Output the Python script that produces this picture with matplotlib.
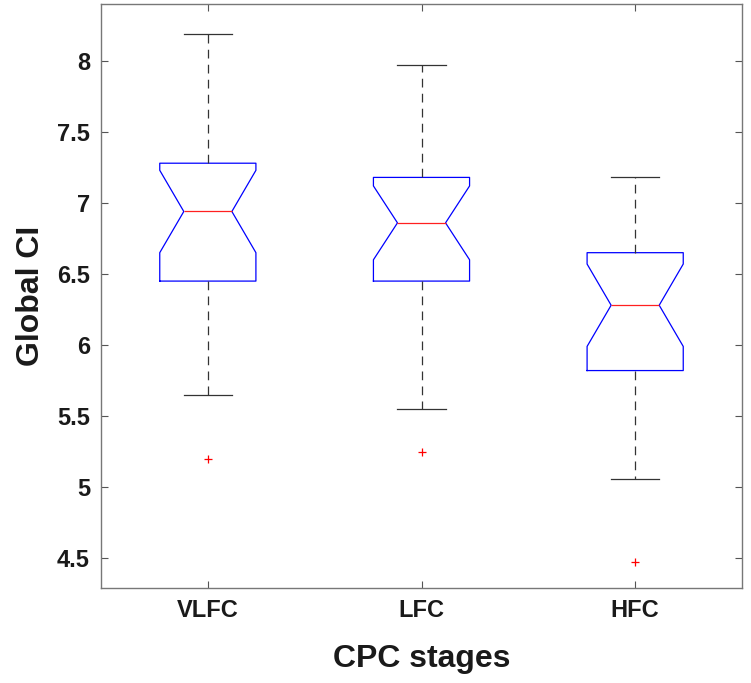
import matplotlib
matplotlib.use("Agg")
from matplotlib import pyplot as plt

# values
stages = ["VLFC", "LFC", "HFC"]
whislo = [5.65, 5.55, 5.06]
q1 = [6.45, 6.45, 5.82]
med = [6.94, 6.86, 6.28]
q3 = [7.28, 7.18, 6.65]
whishi = [8.19, 7.97, 7.18]
ci_lo = [6.65, 6.60, 5.99]
ci_hi = [7.23, 7.12, 6.57]
outliers = [[5.20], [5.25], [4.47]]

stats = []
for i, name in enumerate(stages):
    stats.append(dict(label=name, whislo=whislo[i], q1=q1[i], med=med[i],
                      q3=q3[i], whishi=whishi[i], cilo=ci_lo[i],
                      cihi=ci_hi[i], fliers=outliers[i]))

plt.rcParams['font.family'] = ['Liberation Sans', 'DejaVu Sans']
plt.rcParams['font.weight'] = 'bold'

fig = plt.figure(figsize=(7.51, 6.83), dpi=100)
ax = fig.add_axes([101 / 751, 1 - 588 / 683, 641 / 751, 584 / 683])

ax.bxp(stats, positions=[1, 2, 3], widths=0.45, shownotches=True,
       capwidths=0.225,
       boxprops=dict(color='#0000ff', linewidth=0.9),
       medianprops=dict(color='#ff2020', linewidth=0.9),
       whiskerprops=dict(color='#333333', linewidth=0.9, linestyle=(0, (7, 5))),
       capprops=dict(color='#333333', linewidth=0.9),
       flierprops=dict(marker='+', markeredgecolor='#ff0000', markersize=6,
                       markeredgewidth=0.9, linestyle='none'))

ax.set_xlim(0.5, 3.5)
ax.set_ylim(4.289, 8.401)
ax.set_yticks([4.5, 5, 5.5, 6, 6.5, 7, 7.5, 8])
ax.set_yticklabels(['4.5', '5', '5.5', '6', '6.5', '7', '7.5', '8'])
ax.set_xticks([1, 2, 3])
ax.set_xticklabels(stages)

ax.tick_params(direction='in', length=5, width=0.8, color='#555555',
               labelsize=17, labelcolor='#1a1a1a', top=True, right=True, pad=8)
for s in ax.spines.values():
    s.set_color('#777777')
    s.set_linewidth(1.0)

ax.set_xlabel('CPC stages', fontsize=23, fontweight='bold', color='#1a1a1a', labelpad=16)
ax.set_ylabel('Global CI', fontsize=23, fontweight='bold', color='#1a1a1a', labelpad=8)

fig.savefig('out.png', dpi=100)
